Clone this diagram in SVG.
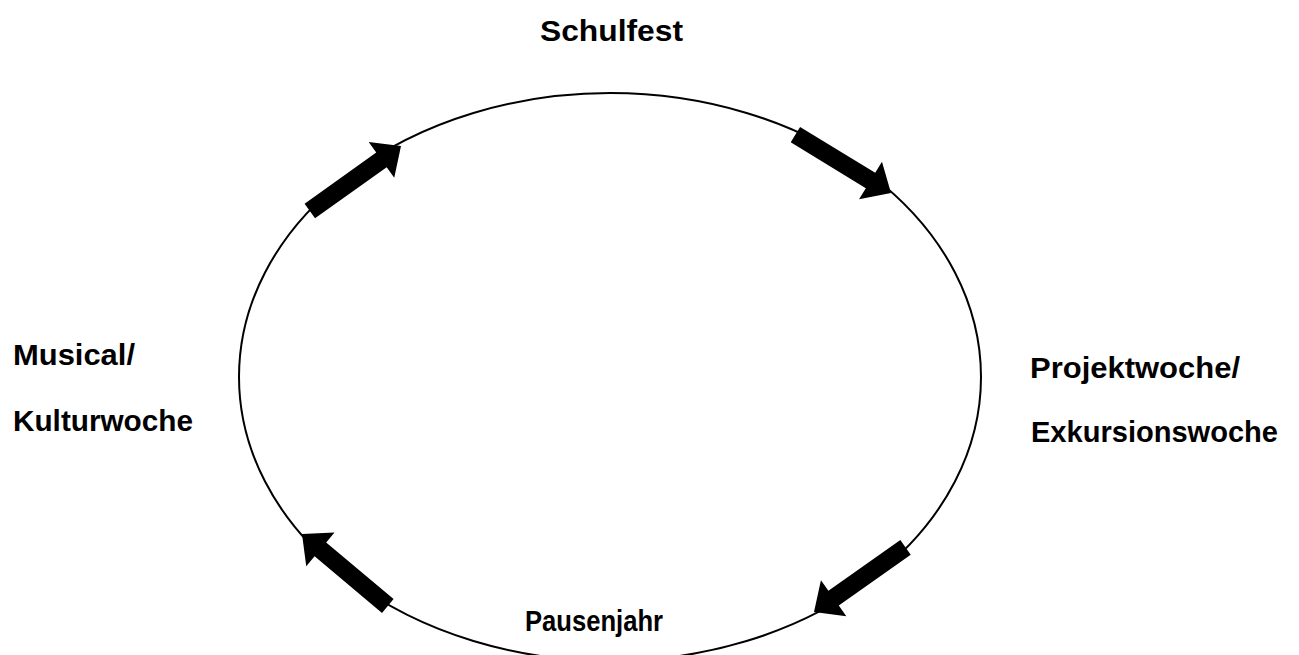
<svg xmlns="http://www.w3.org/2000/svg" width="1299" height="655" viewBox="0 0 1299 655">
<style>
.lbl{font-family:"Comic Sans MS","Liberation Sans",sans-serif;font-weight:bold;font-size:29px;fill:#000}
.ring{fill:none;stroke:#000;stroke-width:2}
.arr{fill:#000;stroke:none}
</style>
<defs>
<path id="blk" d="M0,0 L-24,-22 L-24,-9 L-112,-9 L-112,9 L-24,9 L-24,22 Z"/>
</defs>
<rect width="1299" height="655" fill="#fff"/>
<g id="cycle">
<ellipse class="ring" cx="610" cy="377" rx="371" ry="284"/>
</g>
<g id="connectors">
<use href="#blk" class="arr" transform="translate(401,146) rotate(-35.5)"/>
<use href="#blk" class="arr" transform="translate(891,193) rotate(31.4)"/>
<use href="#blk" class="arr" transform="translate(814,612) rotate(144.8)"/>
<use href="#blk" class="arr" transform="translate(302,534) rotate(220)"/>
</g>
<g id="schulfest"><text class="lbl" x="540" y="41" textLength="143" lengthAdjust="spacingAndGlyphs">Schulfest</text></g>
<g id="projektwoche"><text class="lbl" x="1030" y="378" textLength="210" lengthAdjust="spacingAndGlyphs">Projektwoche/</text>
<text class="lbl" x="1031" y="442" textLength="247" lengthAdjust="spacingAndGlyphs">Exkursionswoche</text></g>
<g id="pausenjahr"><text class="lbl" x="525" y="631" textLength="138" lengthAdjust="spacingAndGlyphs">Pausenjahr</text></g>
<g id="musical"><text class="lbl" x="13" y="365" textLength="122" lengthAdjust="spacingAndGlyphs">Musical/</text>
<text class="lbl" x="13" y="431" textLength="180" lengthAdjust="spacingAndGlyphs">Kulturwoche</text></g>
</svg>
